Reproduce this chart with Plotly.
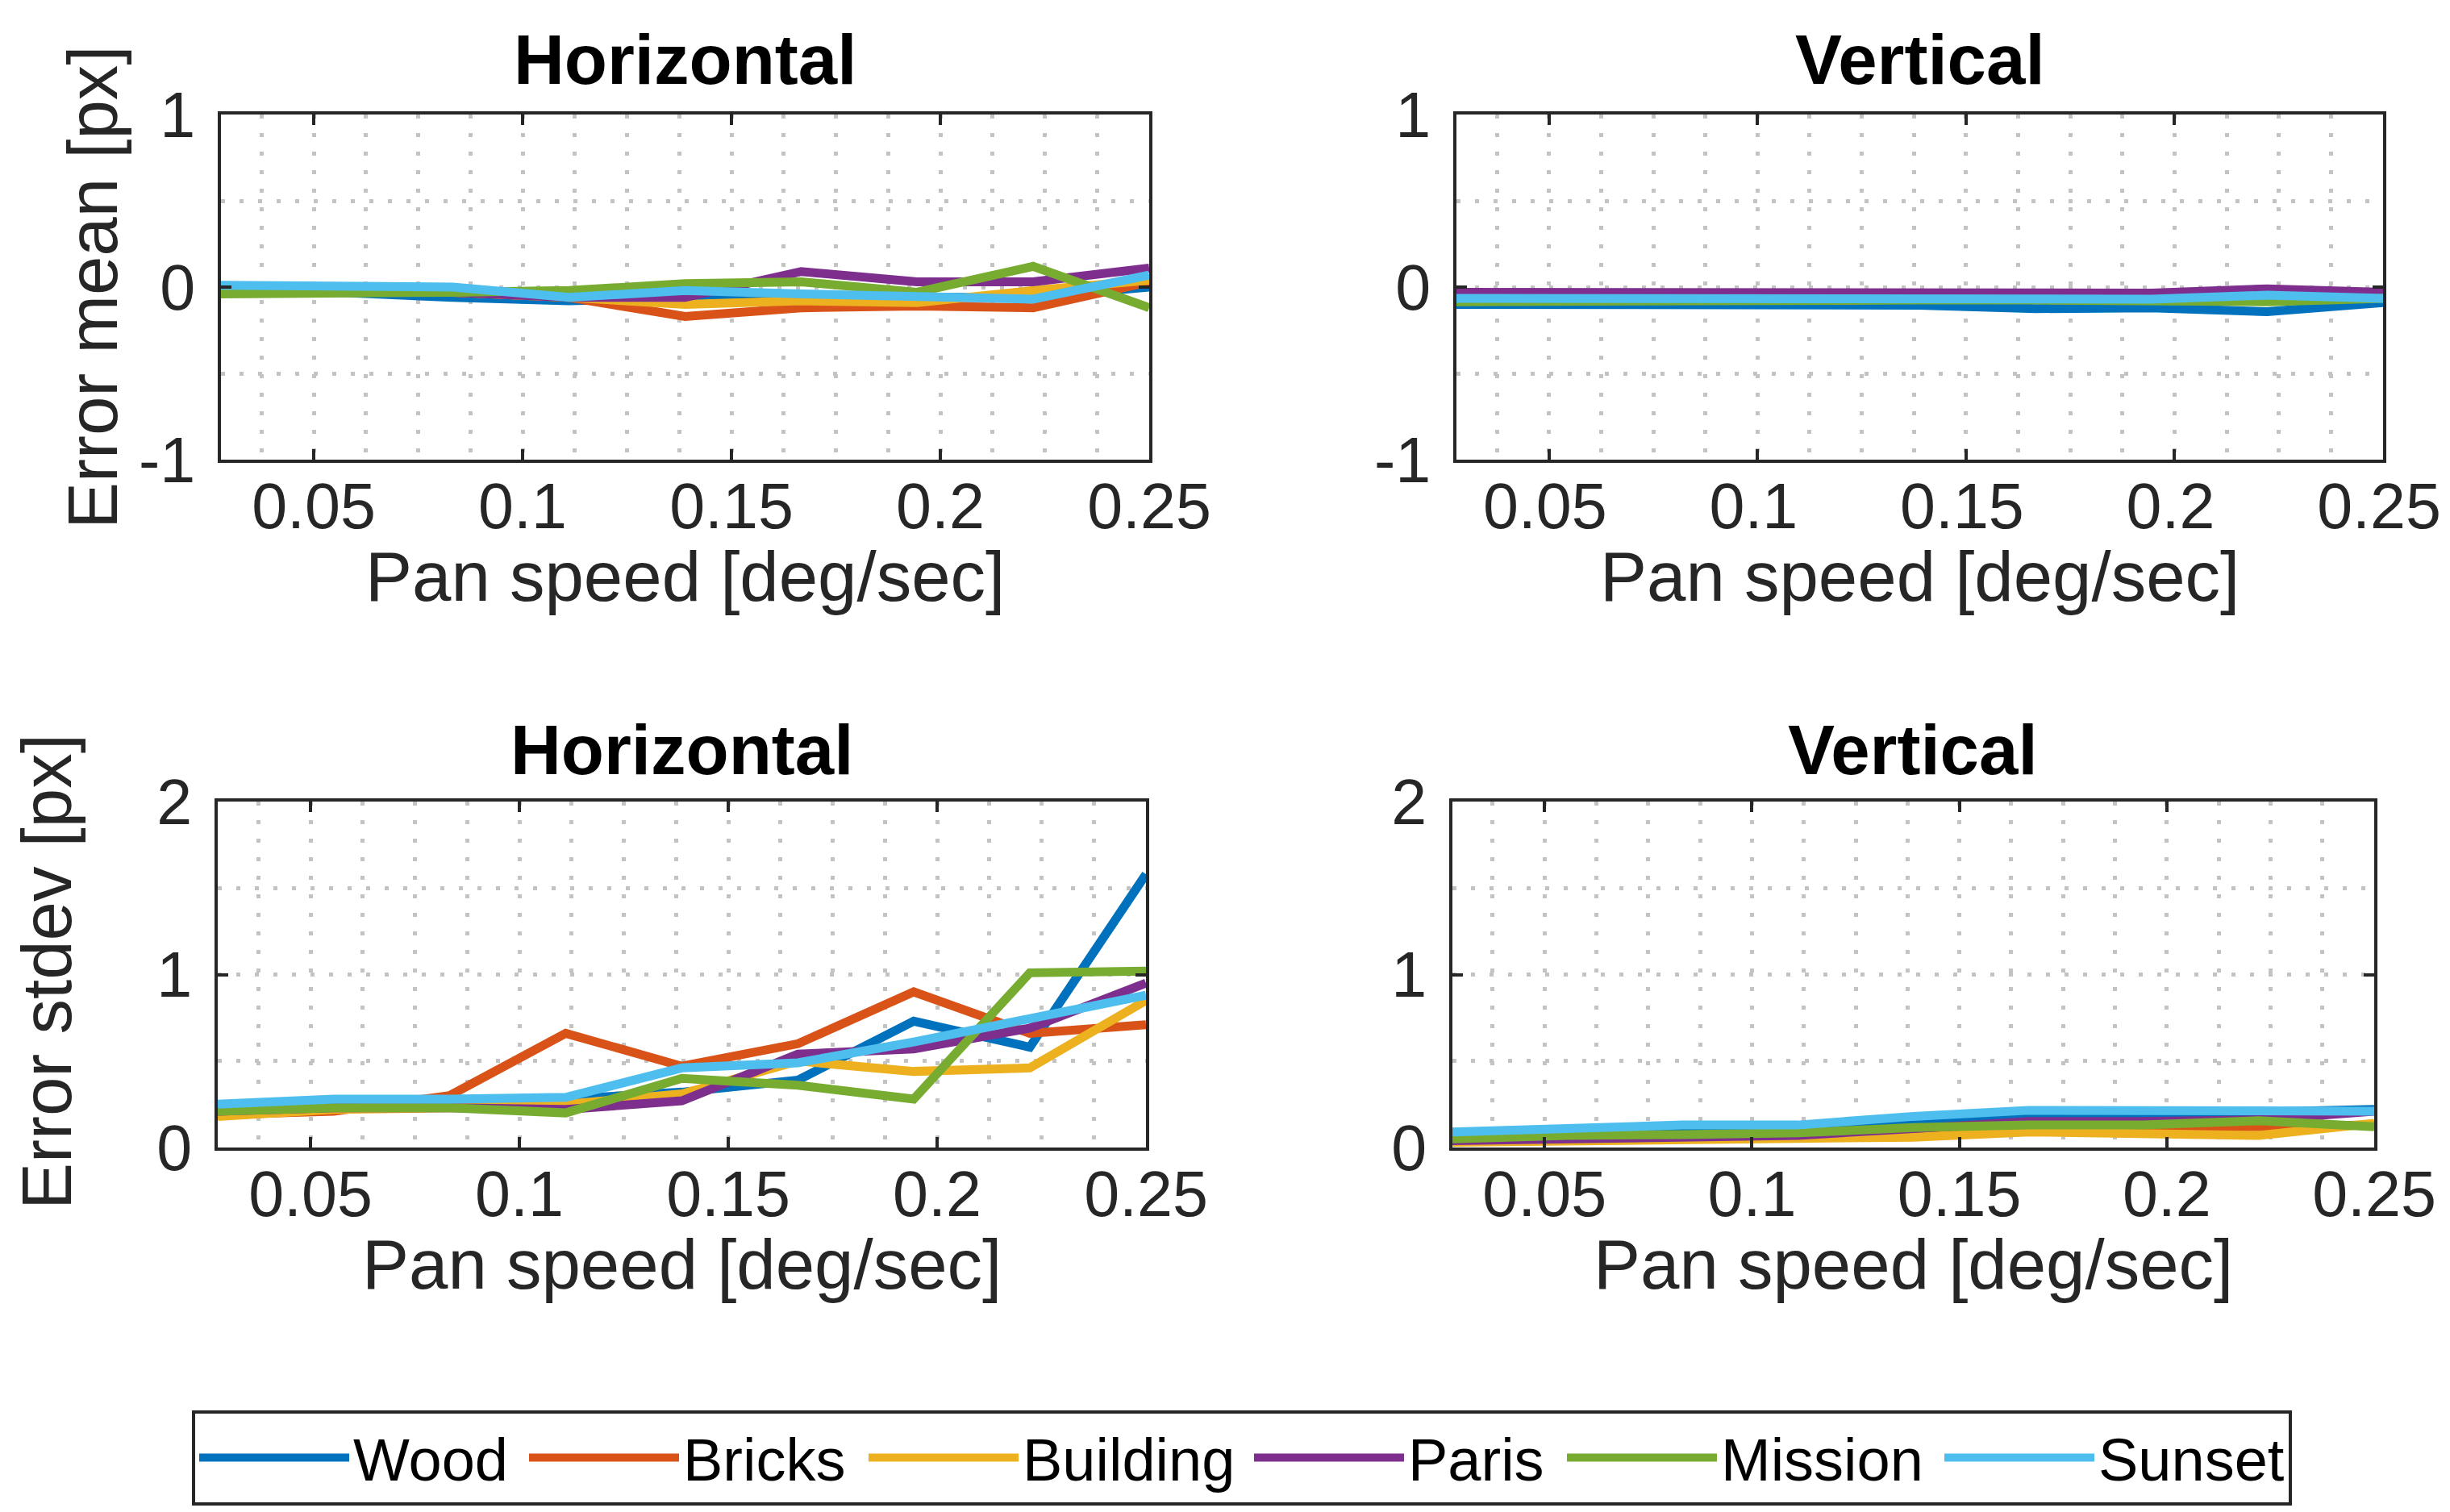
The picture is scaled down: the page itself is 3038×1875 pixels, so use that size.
import plotly.graph_objects as go

# ---------------- data ----------------
speed = [0.0278, 0.0556, 0.0833, 0.1111, 0.1389, 0.1667, 0.1944, 0.2222, 0.25]
series_names = ["Wood", "Bricks", "Building", "Paris", "Mission", "Sunset"]
series_colors = ["#0072BD", "#D95319", "#EDB120", "#7E2F8E", "#77AC30", "#4DBEEE"]

# Error mean, horizontal
wood_mean_h = [-0.03, -0.03, -0.06, -0.08, -0.06, -0.05, -0.06, -0.06, 0.00]
bricks_mean_h = [-0.02, -0.02, -0.03, -0.06, -0.17, -0.12, -0.11, -0.12, 0.03]
building_mean_h = [-0.02, -0.02, -0.03, -0.06, -0.10, -0.08, -0.09, -0.02, 0.04]
paris_mean_h = [-0.03, -0.03, -0.03, -0.06, -0.06, 0.09, 0.03, 0.03, 0.11]
mission_mean_h = [-0.04, -0.04, -0.03, -0.02, 0.02, 0.03, -0.03, 0.12, -0.12]
sunset_mean_h = [0.01, 0.01, 0.00, -0.06, -0.02, -0.04, -0.05, -0.07, 0.07]

# Error mean, vertical
wood_mean_v = [-0.10, -0.10, -0.105, -0.105, -0.105, -0.125, -0.12, -0.143, -0.09]
bricks_mean_v = [-0.06, -0.06, -0.06, -0.06, -0.06, -0.065, -0.065, -0.05, -0.05]
building_mean_v = [-0.065, -0.065, -0.065, -0.065, -0.065, -0.07, -0.07, -0.06, -0.06]
paris_mean_v = [-0.03, -0.03, -0.03, -0.03, -0.03, -0.035, -0.035, -0.01, -0.03]
mission_mean_v = [-0.085, -0.08, -0.075, -0.075, -0.075, -0.075, -0.075, -0.085, -0.065]
sunset_mean_v = [-0.065, -0.065, -0.065, -0.065, -0.065, -0.07, -0.07, -0.047, -0.065]

# Error stdev, horizontal
wood_std_h = [0.24, 0.26, 0.27, 0.28, 0.32, 0.39, 0.73, 0.58, 1.58]
bricks_std_h = [0.19, 0.21, 0.30, 0.66, 0.47, 0.60, 0.90, 0.66, 0.71]
building_std_h = [0.18, 0.22, 0.23, 0.25, 0.31, 0.50, 0.44, 0.46, 0.85]
paris_std_h = [0.21, 0.23, 0.23, 0.22, 0.27, 0.54, 0.57, 0.69, 0.95]
mission_std_h = [0.21, 0.23, 0.23, 0.20, 0.40, 0.36, 0.28, 1.01, 1.02]
sunset_std_h = [0.25, 0.28, 0.28, 0.29, 0.46, 0.49, 0.61, 0.74, 0.88]

# Error stdev, vertical
wood_std_v = [0.08, 0.10, 0.11, 0.12, 0.15, 0.19, 0.19, 0.20, 0.22]
bricks_std_v = [0.04, 0.05, 0.06, 0.07, 0.09, 0.11, 0.11, 0.12, 0.13]
building_std_v = [0.03, 0.035, 0.04, 0.05, 0.06, 0.09, 0.075, 0.07, 0.14]
paris_std_v = [0.04, 0.05, 0.06, 0.07, 0.11, 0.15, 0.15, 0.16, 0.21]
mission_std_v = [0.05, 0.07, 0.075, 0.085, 0.115, 0.13, 0.13, 0.155, 0.12]
sunset_std_v = [0.09, 0.115, 0.13, 0.13, 0.18, 0.215, 0.21, 0.21, 0.21]

panels = [
    ("x", "y", [wood_mean_h, bricks_mean_h, building_mean_h, paris_mean_h, mission_mean_h, sunset_mean_h]),
    ("x2", "y2", [wood_mean_v, bricks_mean_v, building_mean_v, paris_mean_v, mission_mean_v, sunset_mean_v]),
    ("x3", "y3", [wood_std_h, bricks_std_h, building_std_h, paris_std_h, mission_std_h, sunset_std_h]),
    ("x4", "y4", [wood_std_v, bricks_std_v, building_std_v, paris_std_v, mission_std_v, sunset_std_v]),
]

panel_titles = ["Horizontal", "Vertical", "Horizontal", "Vertical"]
x_label = "Pan speed [deg/sec]"
y_labels = ["Error mean [px]", "Error stdev [px]"]
mean_ticks = [-1, 0, 1]
mean_ticktext = ["-1", "0", "1"]
std_ticks = [0, 1, 2]
std_ticktext = ["0", "1", "2"]

# ---------------- styling ----------------
PAGE_OFF = 8                      # default body margin of the html page
W, H = 3038 - 2 * PAGE_OFF, 1875 - 2 * PAGE_OFF
FONT = "Liberation Sans, Arial, Helvetica, sans-serif"
AX = "#262626"
GRID = "#c3c3c3"
DASH = "5px,18px"
LW = 11
LEGEND_ITEMWIDTH = 186
LEGEND_ENTRY_WIDTHS = [208, 220, 277, 187, 267, None]   # text slot widths (px)


def px_x(p):
    return (p - PAGE_OFF) / W


def px_y(p):
    return 1 - (p - PAGE_OFF) / H


fig = go.Figure()
for pi, (xa, ya, data) in enumerate(panels):
    for si, (name, color, vals) in enumerate(zip(series_names, series_colors, data)):
        kw = {}
        if pi == 0 and LEGEND_ENTRY_WIDTHS[si] is not None:
            kw["legendwidth"] = LEGEND_ENTRY_WIDTHS[si]
        fig.add_trace(go.Scatter(
            x=speed, y=vals, mode="lines", name=name,
            line=dict(color=color, width=LW),
            xaxis=xa, yaxis=ya, showlegend=(pi == 0), hoverinfo="skip", **kw,
        ))

common = dict(
    automargin=False,
    ticks="inside", ticklen=13, tickwidth=4, tickcolor=AX,
    showline=True, linewidth=4, linecolor=AX, mirror="ticks",
    showgrid=True, gridcolor=GRID, gridwidth=5, griddash=DASH,
    zeroline=False, tickfont=dict(family=FONT, size=79, color=AX),
    ticklabeloverflow="allow",
)


def xaxis(domain, anchor, shift=0):
    d = dict(common)
    d.update(domain=domain, anchor=anchor, range=[0.0278, 0.25],
             tickmode="linear", tick0=0, dtick=0.05, ticklabelstandoff=-14,
             ticklabelshift=shift,
             minor=dict(tickmode="linear", tick0=0, dtick=0.0125, showgrid=True,
                        gridcolor=GRID, gridwidth=5, griddash=DASH))
    return d


def yaxis(domain, anchor, rng, tv, tt):
    d = dict(common)
    d.update(domain=domain, anchor=anchor, range=rng,
             tickmode="array", tickvals=tv, ticktext=tt, ticklabelstandoff=12,
             minor=dict(tickmode="linear", tick0=0, dtick=0.5, showgrid=True,
                        gridcolor=GRID, gridwidth=5, griddash=DASH))
    return d


dom = {
    1: ([px_x(274), px_x(1425)], [px_y(570), px_y(142)]),
    2: ([px_x(1806), px_x(2955)], [px_y(570), px_y(142)]),
    3: ([px_x(270), px_x(1421)], [px_y(1423), px_y(994)]),
    4: ([px_x(1801), px_x(2944)], [px_y(1423), px_y(994)]),
}
label_shift = {1: 0, 2: -5, 3: 0, 4: 0}

layout = dict(
    template="none",
    width=W, height=H, margin=dict(l=0, r=0, t=0, b=0, autoexpand=False),
    paper_bgcolor="white", plot_bgcolor="white",
    font=dict(family=FONT, color=AX),
    showlegend=True,
    legend=dict(
        orientation="h", x=px_x(1540), xanchor="center", y=0.0, yanchor="bottom",
        font=dict(family=FONT, size=74, color="#000000"),
        bordercolor=AX, borderwidth=4, bgcolor="white",
        itemwidth=LEGEND_ITEMWIDTH, traceorder="normal",
    ),
)
for i in range(1, 5):
    sfx = "" if i == 1 else str(i)
    xd, yd = dom[i]
    layout["xaxis" + sfx] = xaxis(xd, "y" + sfx, label_shift[i])
    if i <= 2:
        layout["yaxis" + sfx] = yaxis(yd, "x" + sfx, [-1, 1], mean_ticks, mean_ticktext)
    else:
        layout["yaxis" + sfx] = yaxis(yd, "x" + sfx, [0, 2], std_ticks, std_ticktext)

annotations = []
title_y = {1: 74, 2: 74, 3: 929, 4: 929}
xlabel_y = {1: 714, 2: 714, 3: 1567, 4: 1567}
for i in range(1, 5):
    xd, yd = dom[i]
    cx = (xd[0] + xd[1]) / 2
    annotations.append(dict(
        text="<b>" + panel_titles[i - 1] + "</b>", x=cx, y=px_y(title_y[i]),
        xref="paper", yref="paper", xanchor="center", yanchor="middle",
        showarrow=False, font=dict(family=FONT, size=87, color="#000000"),
    ))
    annotations.append(dict(
        text=x_label, x=cx, y=px_y(xlabel_y[i]),
        xref="paper", yref="paper", xanchor="center", yanchor="middle",
        showarrow=False, font=dict(family=FONT, size=87, color=AX),
    ))
annotations.append(dict(
    text=y_labels[0], x=px_x(115), y=px_y(356), textangle=-90,
    xref="paper", yref="paper", xanchor="center", yanchor="middle",
    showarrow=False, font=dict(family=FONT, size=87, color=AX),
))
annotations.append(dict(
    text=y_labels[1], x=px_x(57), y=px_y(1205), textangle=-90,
    xref="paper", yref="paper", xanchor="center", yanchor="middle",
    showarrow=False, font=dict(family=FONT, size=87, color=AX),
))
layout["annotations"] = annotations

fig.update_layout(**layout)
fig.write_html("out.html")
